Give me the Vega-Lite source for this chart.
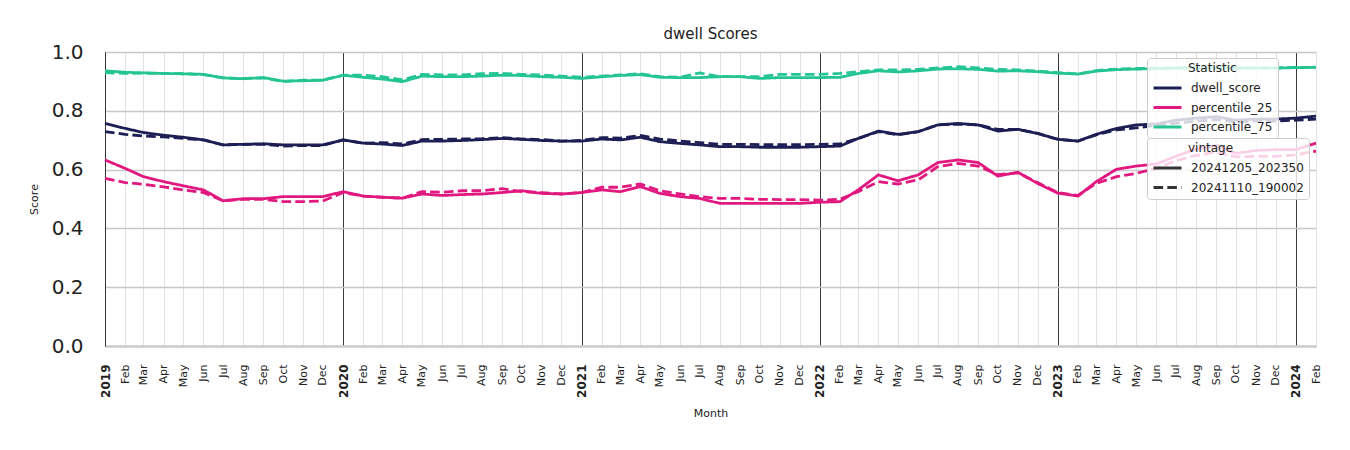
{
  "$schema": "https://vega.github.io/schema/vega-lite/v6.json",
  "width": 1211,
  "height": 294,
  "autosize": {"type": "none"},
  "padding": {"left": 105, "top": 52, "right": 34, "bottom": 104},
  "background": "white",
  "title": {"text": "dwell Scores", "fontSize": 15, "fontWeight": "normal", "color": "#222222", "offset": 0, "font": "DejaVu Sans"},
  "config": {
    "font": "DejaVu Sans",
    "view": {"stroke": null},
    "axis": {"labelFont": "DejaVu Sans", "titleFont": "DejaVu Sans"},
    "legend": {"labelFont": "DejaVu Sans", "titleFont": "DejaVu Sans"}
  },
  "data": {"values": [
    {"month":"2019-01-01","stat":"dwell_score","vintage":"20241205_202350","score":0.757},
    {"month":"2019-02-01","stat":"dwell_score","vintage":"20241205_202350","score":0.740},
    {"month":"2019-03-01","stat":"dwell_score","vintage":"20241205_202350","score":0.726},
    {"month":"2019-04-01","stat":"dwell_score","vintage":"20241205_202350","score":0.717},
    {"month":"2019-05-01","stat":"dwell_score","vintage":"20241205_202350","score":0.710},
    {"month":"2019-06-01","stat":"dwell_score","vintage":"20241205_202350","score":0.701},
    {"month":"2019-07-01","stat":"dwell_score","vintage":"20241205_202350","score":0.684},
    {"month":"2019-08-01","stat":"dwell_score","vintage":"20241205_202350","score":0.686},
    {"month":"2019-09-01","stat":"dwell_score","vintage":"20241205_202350","score":0.688},
    {"month":"2019-10-01","stat":"dwell_score","vintage":"20241205_202350","score":0.684},
    {"month":"2019-11-01","stat":"dwell_score","vintage":"20241205_202350","score":0.684},
    {"month":"2019-12-01","stat":"dwell_score","vintage":"20241205_202350","score":0.684},
    {"month":"2020-01-01","stat":"dwell_score","vintage":"20241205_202350","score":0.701},
    {"month":"2020-02-01","stat":"dwell_score","vintage":"20241205_202350","score":0.690},
    {"month":"2020-03-01","stat":"dwell_score","vintage":"20241205_202350","score":0.687},
    {"month":"2020-04-01","stat":"dwell_score","vintage":"20241205_202350","score":0.682},
    {"month":"2020-05-01","stat":"dwell_score","vintage":"20241205_202350","score":0.697},
    {"month":"2020-06-01","stat":"dwell_score","vintage":"20241205_202350","score":0.697},
    {"month":"2020-07-01","stat":"dwell_score","vintage":"20241205_202350","score":0.699},
    {"month":"2020-08-01","stat":"dwell_score","vintage":"20241205_202350","score":0.702},
    {"month":"2020-09-01","stat":"dwell_score","vintage":"20241205_202350","score":0.706},
    {"month":"2020-10-01","stat":"dwell_score","vintage":"20241205_202350","score":0.703},
    {"month":"2020-11-01","stat":"dwell_score","vintage":"20241205_202350","score":0.699},
    {"month":"2020-12-01","stat":"dwell_score","vintage":"20241205_202350","score":0.697},
    {"month":"2021-01-01","stat":"dwell_score","vintage":"20241205_202350","score":0.697},
    {"month":"2021-02-01","stat":"dwell_score","vintage":"20241205_202350","score":0.704},
    {"month":"2021-03-01","stat":"dwell_score","vintage":"20241205_202350","score":0.701},
    {"month":"2021-04-01","stat":"dwell_score","vintage":"20241205_202350","score":0.710},
    {"month":"2021-05-01","stat":"dwell_score","vintage":"20241205_202350","score":0.695},
    {"month":"2021-06-01","stat":"dwell_score","vintage":"20241205_202350","score":0.689},
    {"month":"2021-07-01","stat":"dwell_score","vintage":"20241205_202350","score":0.684},
    {"month":"2021-08-01","stat":"dwell_score","vintage":"20241205_202350","score":0.678},
    {"month":"2021-09-01","stat":"dwell_score","vintage":"20241205_202350","score":0.678},
    {"month":"2021-10-01","stat":"dwell_score","vintage":"20241205_202350","score":0.676},
    {"month":"2021-11-01","stat":"dwell_score","vintage":"20241205_202350","score":0.676},
    {"month":"2021-12-01","stat":"dwell_score","vintage":"20241205_202350","score":0.676},
    {"month":"2022-01-01","stat":"dwell_score","vintage":"20241205_202350","score":0.678},
    {"month":"2022-02-01","stat":"dwell_score","vintage":"20241205_202350","score":0.680},
    {"month":"2022-03-01","stat":"dwell_score","vintage":"20241205_202350","score":0.706},
    {"month":"2022-04-01","stat":"dwell_score","vintage":"20241205_202350","score":0.731},
    {"month":"2022-05-01","stat":"dwell_score","vintage":"20241205_202350","score":0.720},
    {"month":"2022-06-01","stat":"dwell_score","vintage":"20241205_202350","score":0.729},
    {"month":"2022-07-01","stat":"dwell_score","vintage":"20241205_202350","score":0.752},
    {"month":"2022-08-01","stat":"dwell_score","vintage":"20241205_202350","score":0.757},
    {"month":"2022-09-01","stat":"dwell_score","vintage":"20241205_202350","score":0.752},
    {"month":"2022-10-01","stat":"dwell_score","vintage":"20241205_202350","score":0.731},
    {"month":"2022-11-01","stat":"dwell_score","vintage":"20241205_202350","score":0.737},
    {"month":"2022-12-01","stat":"dwell_score","vintage":"20241205_202350","score":0.723},
    {"month":"2023-01-01","stat":"dwell_score","vintage":"20241205_202350","score":0.703},
    {"month":"2023-02-01","stat":"dwell_score","vintage":"20241205_202350","score":0.697},
    {"month":"2023-03-01","stat":"dwell_score","vintage":"20241205_202350","score":0.720},
    {"month":"2023-04-01","stat":"dwell_score","vintage":"20241205_202350","score":0.740},
    {"month":"2023-05-01","stat":"dwell_score","vintage":"20241205_202350","score":0.752},
    {"month":"2023-06-01","stat":"dwell_score","vintage":"20241205_202350","score":0.755},
    {"month":"2023-07-01","stat":"dwell_score","vintage":"20241205_202350","score":0.768},
    {"month":"2023-08-01","stat":"dwell_score","vintage":"20241205_202350","score":0.775},
    {"month":"2023-09-01","stat":"dwell_score","vintage":"20241205_202350","score":0.780},
    {"month":"2023-10-01","stat":"dwell_score","vintage":"20241205_202350","score":0.768},
    {"month":"2023-11-01","stat":"dwell_score","vintage":"20241205_202350","score":0.772},
    {"month":"2023-12-01","stat":"dwell_score","vintage":"20241205_202350","score":0.772},
    {"month":"2024-01-01","stat":"dwell_score","vintage":"20241205_202350","score":0.775},
    {"month":"2024-02-01","stat":"dwell_score","vintage":"20241205_202350","score":0.782},

    {"month":"2019-01-01","stat":"dwell_score","vintage":"20241110_190002","score":0.729},
    {"month":"2019-02-01","stat":"dwell_score","vintage":"20241110_190002","score":0.720},
    {"month":"2019-03-01","stat":"dwell_score","vintage":"20241110_190002","score":0.714},
    {"month":"2019-04-01","stat":"dwell_score","vintage":"20241110_190002","score":0.711},
    {"month":"2019-05-01","stat":"dwell_score","vintage":"20241110_190002","score":0.706},
    {"month":"2019-06-01","stat":"dwell_score","vintage":"20241110_190002","score":0.701},
    {"month":"2019-07-01","stat":"dwell_score","vintage":"20241110_190002","score":0.684},
    {"month":"2019-08-01","stat":"dwell_score","vintage":"20241110_190002","score":0.686},
    {"month":"2019-09-01","stat":"dwell_score","vintage":"20241110_190002","score":0.686},
    {"month":"2019-10-01","stat":"dwell_score","vintage":"20241110_190002","score":0.680},
    {"month":"2019-11-01","stat":"dwell_score","vintage":"20241110_190002","score":0.682},
    {"month":"2019-12-01","stat":"dwell_score","vintage":"20241110_190002","score":0.682},
    {"month":"2020-01-01","stat":"dwell_score","vintage":"20241110_190002","score":0.701},
    {"month":"2020-02-01","stat":"dwell_score","vintage":"20241110_190002","score":0.690},
    {"month":"2020-03-01","stat":"dwell_score","vintage":"20241110_190002","score":0.692},
    {"month":"2020-04-01","stat":"dwell_score","vintage":"20241110_190002","score":0.687},
    {"month":"2020-05-01","stat":"dwell_score","vintage":"20241110_190002","score":0.702},
    {"month":"2020-06-01","stat":"dwell_score","vintage":"20241110_190002","score":0.703},
    {"month":"2020-07-01","stat":"dwell_score","vintage":"20241110_190002","score":0.704},
    {"month":"2020-08-01","stat":"dwell_score","vintage":"20241110_190002","score":0.705},
    {"month":"2020-09-01","stat":"dwell_score","vintage":"20241110_190002","score":0.709},
    {"month":"2020-10-01","stat":"dwell_score","vintage":"20241110_190002","score":0.704},
    {"month":"2020-11-01","stat":"dwell_score","vintage":"20241110_190002","score":0.702},
    {"month":"2020-12-01","stat":"dwell_score","vintage":"20241110_190002","score":0.697},
    {"month":"2021-01-01","stat":"dwell_score","vintage":"20241110_190002","score":0.699},
    {"month":"2021-02-01","stat":"dwell_score","vintage":"20241110_190002","score":0.709},
    {"month":"2021-03-01","stat":"dwell_score","vintage":"20241110_190002","score":0.707},
    {"month":"2021-04-01","stat":"dwell_score","vintage":"20241110_190002","score":0.716},
    {"month":"2021-05-01","stat":"dwell_score","vintage":"20241110_190002","score":0.704},
    {"month":"2021-06-01","stat":"dwell_score","vintage":"20241110_190002","score":0.697},
    {"month":"2021-07-01","stat":"dwell_score","vintage":"20241110_190002","score":0.692},
    {"month":"2021-08-01","stat":"dwell_score","vintage":"20241110_190002","score":0.686},
    {"month":"2021-09-01","stat":"dwell_score","vintage":"20241110_190002","score":0.686},
    {"month":"2021-10-01","stat":"dwell_score","vintage":"20241110_190002","score":0.685},
    {"month":"2021-11-01","stat":"dwell_score","vintage":"20241110_190002","score":0.685},
    {"month":"2021-12-01","stat":"dwell_score","vintage":"20241110_190002","score":0.685},
    {"month":"2022-01-01","stat":"dwell_score","vintage":"20241110_190002","score":0.686},
    {"month":"2022-02-01","stat":"dwell_score","vintage":"20241110_190002","score":0.687},
    {"month":"2022-03-01","stat":"dwell_score","vintage":"20241110_190002","score":0.706},
    {"month":"2022-04-01","stat":"dwell_score","vintage":"20241110_190002","score":0.729},
    {"month":"2022-05-01","stat":"dwell_score","vintage":"20241110_190002","score":0.718},
    {"month":"2022-06-01","stat":"dwell_score","vintage":"20241110_190002","score":0.729},
    {"month":"2022-07-01","stat":"dwell_score","vintage":"20241110_190002","score":0.752},
    {"month":"2022-08-01","stat":"dwell_score","vintage":"20241110_190002","score":0.755},
    {"month":"2022-09-01","stat":"dwell_score","vintage":"20241110_190002","score":0.752},
    {"month":"2022-10-01","stat":"dwell_score","vintage":"20241110_190002","score":0.737},
    {"month":"2022-11-01","stat":"dwell_score","vintage":"20241110_190002","score":0.737},
    {"month":"2022-12-01","stat":"dwell_score","vintage":"20241110_190002","score":0.723},
    {"month":"2023-01-01","stat":"dwell_score","vintage":"20241110_190002","score":0.703},
    {"month":"2023-02-01","stat":"dwell_score","vintage":"20241110_190002","score":0.697},
    {"month":"2023-03-01","stat":"dwell_score","vintage":"20241110_190002","score":0.718},
    {"month":"2023-04-01","stat":"dwell_score","vintage":"20241110_190002","score":0.735},
    {"month":"2023-05-01","stat":"dwell_score","vintage":"20241110_190002","score":0.742},
    {"month":"2023-06-01","stat":"dwell_score","vintage":"20241110_190002","score":0.750},
    {"month":"2023-07-01","stat":"dwell_score","vintage":"20241110_190002","score":0.758},
    {"month":"2023-08-01","stat":"dwell_score","vintage":"20241110_190002","score":0.765},
    {"month":"2023-09-01","stat":"dwell_score","vintage":"20241110_190002","score":0.770},
    {"month":"2023-10-01","stat":"dwell_score","vintage":"20241110_190002","score":0.762},
    {"month":"2023-11-01","stat":"dwell_score","vintage":"20241110_190002","score":0.765},
    {"month":"2023-12-01","stat":"dwell_score","vintage":"20241110_190002","score":0.765},
    {"month":"2024-01-01","stat":"dwell_score","vintage":"20241110_190002","score":0.768},
    {"month":"2024-02-01","stat":"dwell_score","vintage":"20241110_190002","score":0.772},

    {"month":"2019-01-01","stat":"percentile_25","vintage":"20241205_202350","score":0.633},
    {"month":"2019-02-01","stat":"percentile_25","vintage":"20241205_202350","score":0.604},
    {"month":"2019-03-01","stat":"percentile_25","vintage":"20241205_202350","score":0.576},
    {"month":"2019-04-01","stat":"percentile_25","vintage":"20241205_202350","score":0.559},
    {"month":"2019-05-01","stat":"percentile_25","vintage":"20241205_202350","score":0.545},
    {"month":"2019-06-01","stat":"percentile_25","vintage":"20241205_202350","score":0.531},
    {"month":"2019-07-01","stat":"percentile_25","vintage":"20241205_202350","score":0.494},
    {"month":"2019-08-01","stat":"percentile_25","vintage":"20241205_202350","score":0.501},
    {"month":"2019-09-01","stat":"percentile_25","vintage":"20241205_202350","score":0.501},
    {"month":"2019-10-01","stat":"percentile_25","vintage":"20241205_202350","score":0.508},
    {"month":"2019-11-01","stat":"percentile_25","vintage":"20241205_202350","score":0.508},
    {"month":"2019-12-01","stat":"percentile_25","vintage":"20241205_202350","score":0.508},
    {"month":"2020-01-01","stat":"percentile_25","vintage":"20241205_202350","score":0.525},
    {"month":"2020-02-01","stat":"percentile_25","vintage":"20241205_202350","score":0.510},
    {"month":"2020-03-01","stat":"percentile_25","vintage":"20241205_202350","score":0.506},
    {"month":"2020-04-01","stat":"percentile_25","vintage":"20241205_202350","score":0.503},
    {"month":"2020-05-01","stat":"percentile_25","vintage":"20241205_202350","score":0.517},
    {"month":"2020-06-01","stat":"percentile_25","vintage":"20241205_202350","score":0.512},
    {"month":"2020-07-01","stat":"percentile_25","vintage":"20241205_202350","score":0.515},
    {"month":"2020-08-01","stat":"percentile_25","vintage":"20241205_202350","score":0.517},
    {"month":"2020-09-01","stat":"percentile_25","vintage":"20241205_202350","score":0.522},
    {"month":"2020-10-01","stat":"percentile_25","vintage":"20241205_202350","score":0.528},
    {"month":"2020-11-01","stat":"percentile_25","vintage":"20241205_202350","score":0.519},
    {"month":"2020-12-01","stat":"percentile_25","vintage":"20241205_202350","score":0.517},
    {"month":"2021-01-01","stat":"percentile_25","vintage":"20241205_202350","score":0.522},
    {"month":"2021-02-01","stat":"percentile_25","vintage":"20241205_202350","score":0.531},
    {"month":"2021-03-01","stat":"percentile_25","vintage":"20241205_202350","score":0.525},
    {"month":"2021-04-01","stat":"percentile_25","vintage":"20241205_202350","score":0.542},
    {"month":"2021-05-01","stat":"percentile_25","vintage":"20241205_202350","score":0.519},
    {"month":"2021-06-01","stat":"percentile_25","vintage":"20241205_202350","score":0.508},
    {"month":"2021-07-01","stat":"percentile_25","vintage":"20241205_202350","score":0.502},
    {"month":"2021-08-01","stat":"percentile_25","vintage":"20241205_202350","score":0.485},
    {"month":"2021-09-01","stat":"percentile_25","vintage":"20241205_202350","score":0.485},
    {"month":"2021-10-01","stat":"percentile_25","vintage":"20241205_202350","score":0.485},
    {"month":"2021-11-01","stat":"percentile_25","vintage":"20241205_202350","score":0.485},
    {"month":"2021-12-01","stat":"percentile_25","vintage":"20241205_202350","score":0.485},
    {"month":"2022-01-01","stat":"percentile_25","vintage":"20241205_202350","score":0.489},
    {"month":"2022-02-01","stat":"percentile_25","vintage":"20241205_202350","score":0.491},
    {"month":"2022-03-01","stat":"percentile_25","vintage":"20241205_202350","score":0.531},
    {"month":"2022-04-01","stat":"percentile_25","vintage":"20241205_202350","score":0.582},
    {"month":"2022-05-01","stat":"percentile_25","vintage":"20241205_202350","score":0.562},
    {"month":"2022-06-01","stat":"percentile_25","vintage":"20241205_202350","score":0.582},
    {"month":"2022-07-01","stat":"percentile_25","vintage":"20241205_202350","score":0.624},
    {"month":"2022-08-01","stat":"percentile_25","vintage":"20241205_202350","score":0.633},
    {"month":"2022-09-01","stat":"percentile_25","vintage":"20241205_202350","score":0.624},
    {"month":"2022-10-01","stat":"percentile_25","vintage":"20241205_202350","score":0.578},
    {"month":"2022-11-01","stat":"percentile_25","vintage":"20241205_202350","score":0.591},
    {"month":"2022-12-01","stat":"percentile_25","vintage":"20241205_202350","score":0.553},
    {"month":"2023-01-01","stat":"percentile_25","vintage":"20241205_202350","score":0.520},
    {"month":"2023-02-01","stat":"percentile_25","vintage":"20241205_202350","score":0.510},
    {"month":"2023-03-01","stat":"percentile_25","vintage":"20241205_202350","score":0.559},
    {"month":"2023-04-01","stat":"percentile_25","vintage":"20241205_202350","score":0.601},
    {"month":"2023-05-01","stat":"percentile_25","vintage":"20241205_202350","score":0.612},
    {"month":"2023-06-01","stat":"percentile_25","vintage":"20241205_202350","score":0.619},
    {"month":"2023-07-01","stat":"percentile_25","vintage":"20241205_202350","score":0.645},
    {"month":"2023-08-01","stat":"percentile_25","vintage":"20241205_202350","score":0.670},
    {"month":"2023-09-01","stat":"percentile_25","vintage":"20241205_202350","score":0.682},
    {"month":"2023-10-01","stat":"percentile_25","vintage":"20241205_202350","score":0.655},
    {"month":"2023-11-01","stat":"percentile_25","vintage":"20241205_202350","score":0.665},
    {"month":"2023-12-01","stat":"percentile_25","vintage":"20241205_202350","score":0.668},
    {"month":"2024-01-01","stat":"percentile_25","vintage":"20241205_202350","score":0.668},
    {"month":"2024-02-01","stat":"percentile_25","vintage":"20241205_202350","score":0.690},

    {"month":"2019-01-01","stat":"percentile_25","vintage":"20241110_190002","score":0.570},
    {"month":"2019-02-01","stat":"percentile_25","vintage":"20241110_190002","score":0.556},
    {"month":"2019-03-01","stat":"percentile_25","vintage":"20241110_190002","score":0.550},
    {"month":"2019-04-01","stat":"percentile_25","vintage":"20241110_190002","score":0.541},
    {"month":"2019-05-01","stat":"percentile_25","vintage":"20241110_190002","score":0.531},
    {"month":"2019-06-01","stat":"percentile_25","vintage":"20241110_190002","score":0.522},
    {"month":"2019-07-01","stat":"percentile_25","vintage":"20241110_190002","score":0.494},
    {"month":"2019-08-01","stat":"percentile_25","vintage":"20241110_190002","score":0.499},
    {"month":"2019-09-01","stat":"percentile_25","vintage":"20241110_190002","score":0.499},
    {"month":"2019-10-01","stat":"percentile_25","vintage":"20241110_190002","score":0.491},
    {"month":"2019-11-01","stat":"percentile_25","vintage":"20241110_190002","score":0.491},
    {"month":"2019-12-01","stat":"percentile_25","vintage":"20241110_190002","score":0.493},
    {"month":"2020-01-01","stat":"percentile_25","vintage":"20241110_190002","score":0.522},
    {"month":"2020-02-01","stat":"percentile_25","vintage":"20241110_190002","score":0.510},
    {"month":"2020-03-01","stat":"percentile_25","vintage":"20241110_190002","score":0.506},
    {"month":"2020-04-01","stat":"percentile_25","vintage":"20241110_190002","score":0.503},
    {"month":"2020-05-01","stat":"percentile_25","vintage":"20241110_190002","score":0.525},
    {"month":"2020-06-01","stat":"percentile_25","vintage":"20241110_190002","score":0.523},
    {"month":"2020-07-01","stat":"percentile_25","vintage":"20241110_190002","score":0.528},
    {"month":"2020-08-01","stat":"percentile_25","vintage":"20241110_190002","score":0.528},
    {"month":"2020-09-01","stat":"percentile_25","vintage":"20241110_190002","score":0.535},
    {"month":"2020-10-01","stat":"percentile_25","vintage":"20241110_190002","score":0.525},
    {"month":"2020-11-01","stat":"percentile_25","vintage":"20241110_190002","score":0.522},
    {"month":"2020-12-01","stat":"percentile_25","vintage":"20241110_190002","score":0.517},
    {"month":"2021-01-01","stat":"percentile_25","vintage":"20241110_190002","score":0.522},
    {"month":"2021-02-01","stat":"percentile_25","vintage":"20241110_190002","score":0.540},
    {"month":"2021-03-01","stat":"percentile_25","vintage":"20241110_190002","score":0.540},
    {"month":"2021-04-01","stat":"percentile_25","vintage":"20241110_190002","score":0.551},
    {"month":"2021-05-01","stat":"percentile_25","vintage":"20241110_190002","score":0.528},
    {"month":"2021-06-01","stat":"percentile_25","vintage":"20241110_190002","score":0.517},
    {"month":"2021-07-01","stat":"percentile_25","vintage":"20241110_190002","score":0.508},
    {"month":"2021-08-01","stat":"percentile_25","vintage":"20241110_190002","score":0.502},
    {"month":"2021-09-01","stat":"percentile_25","vintage":"20241110_190002","score":0.502},
    {"month":"2021-10-01","stat":"percentile_25","vintage":"20241110_190002","score":0.499},
    {"month":"2021-11-01","stat":"percentile_25","vintage":"20241110_190002","score":0.498},
    {"month":"2021-12-01","stat":"percentile_25","vintage":"20241110_190002","score":0.498},
    {"month":"2022-01-01","stat":"percentile_25","vintage":"20241110_190002","score":0.496},
    {"month":"2022-02-01","stat":"percentile_25","vintage":"20241110_190002","score":0.499},
    {"month":"2022-03-01","stat":"percentile_25","vintage":"20241110_190002","score":0.525},
    {"month":"2022-04-01","stat":"percentile_25","vintage":"20241110_190002","score":0.559},
    {"month":"2022-05-01","stat":"percentile_25","vintage":"20241110_190002","score":0.551},
    {"month":"2022-06-01","stat":"percentile_25","vintage":"20241110_190002","score":0.565},
    {"month":"2022-07-01","stat":"percentile_25","vintage":"20241110_190002","score":0.610},
    {"month":"2022-08-01","stat":"percentile_25","vintage":"20241110_190002","score":0.621},
    {"month":"2022-09-01","stat":"percentile_25","vintage":"20241110_190002","score":0.612},
    {"month":"2022-10-01","stat":"percentile_25","vintage":"20241110_190002","score":0.583},
    {"month":"2022-11-01","stat":"percentile_25","vintage":"20241110_190002","score":0.589},
    {"month":"2022-12-01","stat":"percentile_25","vintage":"20241110_190002","score":0.556},
    {"month":"2023-01-01","stat":"percentile_25","vintage":"20241110_190002","score":0.522},
    {"month":"2023-02-01","stat":"percentile_25","vintage":"20241110_190002","score":0.512},
    {"month":"2023-03-01","stat":"percentile_25","vintage":"20241110_190002","score":0.553},
    {"month":"2023-04-01","stat":"percentile_25","vintage":"20241110_190002","score":0.576},
    {"month":"2023-05-01","stat":"percentile_25","vintage":"20241110_190002","score":0.587},
    {"month":"2023-06-01","stat":"percentile_25","vintage":"20241110_190002","score":0.604},
    {"month":"2023-07-01","stat":"percentile_25","vintage":"20241110_190002","score":0.630},
    {"month":"2023-08-01","stat":"percentile_25","vintage":"20241110_190002","score":0.648},
    {"month":"2023-09-01","stat":"percentile_25","vintage":"20241110_190002","score":0.660},
    {"month":"2023-10-01","stat":"percentile_25","vintage":"20241110_190002","score":0.643},
    {"month":"2023-11-01","stat":"percentile_25","vintage":"20241110_190002","score":0.645},
    {"month":"2023-12-01","stat":"percentile_25","vintage":"20241110_190002","score":0.645},
    {"month":"2024-01-01","stat":"percentile_25","vintage":"20241110_190002","score":0.650},
    {"month":"2024-02-01","stat":"percentile_25","vintage":"20241110_190002","score":0.663},

    {"month":"2019-01-01","stat":"percentile_75","vintage":"20241205_202350","score":0.936},
    {"month":"2019-02-01","stat":"percentile_75","vintage":"20241205_202350","score":0.931},
    {"month":"2019-03-01","stat":"percentile_75","vintage":"20241205_202350","score":0.929},
    {"month":"2019-04-01","stat":"percentile_75","vintage":"20241205_202350","score":0.927},
    {"month":"2019-05-01","stat":"percentile_75","vintage":"20241205_202350","score":0.926},
    {"month":"2019-06-01","stat":"percentile_75","vintage":"20241205_202350","score":0.924},
    {"month":"2019-07-01","stat":"percentile_75","vintage":"20241205_202350","score":0.912},
    {"month":"2019-08-01","stat":"percentile_75","vintage":"20241205_202350","score":0.909},
    {"month":"2019-09-01","stat":"percentile_75","vintage":"20241205_202350","score":0.913},
    {"month":"2019-10-01","stat":"percentile_75","vintage":"20241205_202350","score":0.901},
    {"month":"2019-11-01","stat":"percentile_75","vintage":"20241205_202350","score":0.902},
    {"month":"2019-12-01","stat":"percentile_75","vintage":"20241205_202350","score":0.904},
    {"month":"2020-01-01","stat":"percentile_75","vintage":"20241205_202350","score":0.921},
    {"month":"2020-02-01","stat":"percentile_75","vintage":"20241205_202350","score":0.914},
    {"month":"2020-03-01","stat":"percentile_75","vintage":"20241205_202350","score":0.908},
    {"month":"2020-04-01","stat":"percentile_75","vintage":"20241205_202350","score":0.899},
    {"month":"2020-05-01","stat":"percentile_75","vintage":"20241205_202350","score":0.918},
    {"month":"2020-06-01","stat":"percentile_75","vintage":"20241205_202350","score":0.916},
    {"month":"2020-07-01","stat":"percentile_75","vintage":"20241205_202350","score":0.916},
    {"month":"2020-08-01","stat":"percentile_75","vintage":"20241205_202350","score":0.918},
    {"month":"2020-09-01","stat":"percentile_75","vintage":"20241205_202350","score":0.921},
    {"month":"2020-10-01","stat":"percentile_75","vintage":"20241205_202350","score":0.920},
    {"month":"2020-11-01","stat":"percentile_75","vintage":"20241205_202350","score":0.916},
    {"month":"2020-12-01","stat":"percentile_75","vintage":"20241205_202350","score":0.914},
    {"month":"2021-01-01","stat":"percentile_75","vintage":"20241205_202350","score":0.910},
    {"month":"2021-02-01","stat":"percentile_75","vintage":"20241205_202350","score":0.916},
    {"month":"2021-03-01","stat":"percentile_75","vintage":"20241205_202350","score":0.920},
    {"month":"2021-04-01","stat":"percentile_75","vintage":"20241205_202350","score":0.923},
    {"month":"2021-05-01","stat":"percentile_75","vintage":"20241205_202350","score":0.914},
    {"month":"2021-06-01","stat":"percentile_75","vintage":"20241205_202350","score":0.913},
    {"month":"2021-07-01","stat":"percentile_75","vintage":"20241205_202350","score":0.913},
    {"month":"2021-08-01","stat":"percentile_75","vintage":"20241205_202350","score":0.916},
    {"month":"2021-09-01","stat":"percentile_75","vintage":"20241205_202350","score":0.916},
    {"month":"2021-10-01","stat":"percentile_75","vintage":"20241205_202350","score":0.910},
    {"month":"2021-11-01","stat":"percentile_75","vintage":"20241205_202350","score":0.913},
    {"month":"2021-12-01","stat":"percentile_75","vintage":"20241205_202350","score":0.913},
    {"month":"2022-01-01","stat":"percentile_75","vintage":"20241205_202350","score":0.913},
    {"month":"2022-02-01","stat":"percentile_75","vintage":"20241205_202350","score":0.914},
    {"month":"2022-03-01","stat":"percentile_75","vintage":"20241205_202350","score":0.927},
    {"month":"2022-04-01","stat":"percentile_75","vintage":"20241205_202350","score":0.936},
    {"month":"2022-05-01","stat":"percentile_75","vintage":"20241205_202350","score":0.932},
    {"month":"2022-06-01","stat":"percentile_75","vintage":"20241205_202350","score":0.936},
    {"month":"2022-07-01","stat":"percentile_75","vintage":"20241205_202350","score":0.942},
    {"month":"2022-08-01","stat":"percentile_75","vintage":"20241205_202350","score":0.943},
    {"month":"2022-09-01","stat":"percentile_75","vintage":"20241205_202350","score":0.941},
    {"month":"2022-10-01","stat":"percentile_75","vintage":"20241205_202350","score":0.935},
    {"month":"2022-11-01","stat":"percentile_75","vintage":"20241205_202350","score":0.936},
    {"month":"2022-12-01","stat":"percentile_75","vintage":"20241205_202350","score":0.933},
    {"month":"2023-01-01","stat":"percentile_75","vintage":"20241205_202350","score":0.928},
    {"month":"2023-02-01","stat":"percentile_75","vintage":"20241205_202350","score":0.925},
    {"month":"2023-03-01","stat":"percentile_75","vintage":"20241205_202350","score":0.935},
    {"month":"2023-04-01","stat":"percentile_75","vintage":"20241205_202350","score":0.940},
    {"month":"2023-05-01","stat":"percentile_75","vintage":"20241205_202350","score":0.942},
    {"month":"2023-06-01","stat":"percentile_75","vintage":"20241205_202350","score":0.943},
    {"month":"2023-07-01","stat":"percentile_75","vintage":"20241205_202350","score":0.945},
    {"month":"2023-08-01","stat":"percentile_75","vintage":"20241205_202350","score":0.946},
    {"month":"2023-09-01","stat":"percentile_75","vintage":"20241205_202350","score":0.946},
    {"month":"2023-10-01","stat":"percentile_75","vintage":"20241205_202350","score":0.945},
    {"month":"2023-11-01","stat":"percentile_75","vintage":"20241205_202350","score":0.945},
    {"month":"2023-12-01","stat":"percentile_75","vintage":"20241205_202350","score":0.945},
    {"month":"2024-01-01","stat":"percentile_75","vintage":"20241205_202350","score":0.947},
    {"month":"2024-02-01","stat":"percentile_75","vintage":"20241205_202350","score":0.948},

    {"month":"2019-01-01","stat":"percentile_75","vintage":"20241110_190002","score":0.930},
    {"month":"2019-02-01","stat":"percentile_75","vintage":"20241110_190002","score":0.927},
    {"month":"2019-03-01","stat":"percentile_75","vintage":"20241110_190002","score":0.928},
    {"month":"2019-04-01","stat":"percentile_75","vintage":"20241110_190002","score":0.927},
    {"month":"2019-05-01","stat":"percentile_75","vintage":"20241110_190002","score":0.926},
    {"month":"2019-06-01","stat":"percentile_75","vintage":"20241110_190002","score":0.923},
    {"month":"2019-07-01","stat":"percentile_75","vintage":"20241110_190002","score":0.912},
    {"month":"2019-08-01","stat":"percentile_75","vintage":"20241110_190002","score":0.910},
    {"month":"2019-09-01","stat":"percentile_75","vintage":"20241110_190002","score":0.912},
    {"month":"2019-10-01","stat":"percentile_75","vintage":"20241110_190002","score":0.900},
    {"month":"2019-11-01","stat":"percentile_75","vintage":"20241110_190002","score":0.904},
    {"month":"2019-12-01","stat":"percentile_75","vintage":"20241110_190002","score":0.904},
    {"month":"2020-01-01","stat":"percentile_75","vintage":"20241110_190002","score":0.921},
    {"month":"2020-02-01","stat":"percentile_75","vintage":"20241110_190002","score":0.921},
    {"month":"2020-03-01","stat":"percentile_75","vintage":"20241110_190002","score":0.916},
    {"month":"2020-04-01","stat":"percentile_75","vintage":"20241110_190002","score":0.905},
    {"month":"2020-05-01","stat":"percentile_75","vintage":"20241110_190002","score":0.924},
    {"month":"2020-06-01","stat":"percentile_75","vintage":"20241110_190002","score":0.922},
    {"month":"2020-07-01","stat":"percentile_75","vintage":"20241110_190002","score":0.922},
    {"month":"2020-08-01","stat":"percentile_75","vintage":"20241110_190002","score":0.926},
    {"month":"2020-09-01","stat":"percentile_75","vintage":"20241110_190002","score":0.927},
    {"month":"2020-10-01","stat":"percentile_75","vintage":"20241110_190002","score":0.924},
    {"month":"2020-11-01","stat":"percentile_75","vintage":"20241110_190002","score":0.922},
    {"month":"2020-12-01","stat":"percentile_75","vintage":"20241110_190002","score":0.918},
    {"month":"2021-01-01","stat":"percentile_75","vintage":"20241110_190002","score":0.914},
    {"month":"2021-02-01","stat":"percentile_75","vintage":"20241110_190002","score":0.918},
    {"month":"2021-03-01","stat":"percentile_75","vintage":"20241110_190002","score":0.922},
    {"month":"2021-04-01","stat":"percentile_75","vintage":"20241110_190002","score":0.926},
    {"month":"2021-05-01","stat":"percentile_75","vintage":"20241110_190002","score":0.916},
    {"month":"2021-06-01","stat":"percentile_75","vintage":"20241110_190002","score":0.914},
    {"month":"2021-07-01","stat":"percentile_75","vintage":"20241110_190002","score":0.929},
    {"month":"2021-08-01","stat":"percentile_75","vintage":"20241110_190002","score":0.916},
    {"month":"2021-09-01","stat":"percentile_75","vintage":"20241110_190002","score":0.916},
    {"month":"2021-10-01","stat":"percentile_75","vintage":"20241110_190002","score":0.916},
    {"month":"2021-11-01","stat":"percentile_75","vintage":"20241110_190002","score":0.924},
    {"month":"2021-12-01","stat":"percentile_75","vintage":"20241110_190002","score":0.924},
    {"month":"2022-01-01","stat":"percentile_75","vintage":"20241110_190002","score":0.924},
    {"month":"2022-02-01","stat":"percentile_75","vintage":"20241110_190002","score":0.927},
    {"month":"2022-03-01","stat":"percentile_75","vintage":"20241110_190002","score":0.933},
    {"month":"2022-04-01","stat":"percentile_75","vintage":"20241110_190002","score":0.939},
    {"month":"2022-05-01","stat":"percentile_75","vintage":"20241110_190002","score":0.939},
    {"month":"2022-06-01","stat":"percentile_75","vintage":"20241110_190002","score":0.941},
    {"month":"2022-07-01","stat":"percentile_75","vintage":"20241110_190002","score":0.946},
    {"month":"2022-08-01","stat":"percentile_75","vintage":"20241110_190002","score":0.950},
    {"month":"2022-09-01","stat":"percentile_75","vintage":"20241110_190002","score":0.946},
    {"month":"2022-10-01","stat":"percentile_75","vintage":"20241110_190002","score":0.941},
    {"month":"2022-11-01","stat":"percentile_75","vintage":"20241110_190002","score":0.939},
    {"month":"2022-12-01","stat":"percentile_75","vintage":"20241110_190002","score":0.935},
    {"month":"2023-01-01","stat":"percentile_75","vintage":"20241110_190002","score":0.930},
    {"month":"2023-02-01","stat":"percentile_75","vintage":"20241110_190002","score":0.925},
    {"month":"2023-03-01","stat":"percentile_75","vintage":"20241110_190002","score":0.937},
    {"month":"2023-04-01","stat":"percentile_75","vintage":"20241110_190002","score":0.942},
    {"month":"2023-05-01","stat":"percentile_75","vintage":"20241110_190002","score":0.944},
    {"month":"2023-06-01","stat":"percentile_75","vintage":"20241110_190002","score":0.945},
    {"month":"2023-07-01","stat":"percentile_75","vintage":"20241110_190002","score":0.946},
    {"month":"2023-08-01","stat":"percentile_75","vintage":"20241110_190002","score":0.947},
    {"month":"2023-09-01","stat":"percentile_75","vintage":"20241110_190002","score":0.947},
    {"month":"2023-10-01","stat":"percentile_75","vintage":"20241110_190002","score":0.946},
    {"month":"2023-11-01","stat":"percentile_75","vintage":"20241110_190002","score":0.946},
    {"month":"2023-12-01","stat":"percentile_75","vintage":"20241110_190002","score":0.946},
    {"month":"2024-01-01","stat":"percentile_75","vintage":"20241110_190002","score":0.948},
    {"month":"2024-02-01","stat":"percentile_75","vintage":"20241110_190002","score":0.948}
  ]},
  "mark": {"type": "line", "strokeWidth": 2.8},
  "encoding": {
    "x": {
      "field": "month",
      "type": "temporal",
      "scale": {"type": "utc", "domain": [{"year": 2019, "month": 1, "date": 1, "utc": true}, {"year": 2024, "month": 2, "date": 1, "utc": true}], "nice": false},
      "axis": {
        "title": "Month",
        "titleFontSize": 11,
        "titleFontWeight": "normal",
        "titleColor": "#222222",
        "titlePadding": 10,
        "tickCount": {"interval": "month", "step": 1},
        "labelExpr": "utcmonth(datum.value) == 0 ? utcFormat(datum.value, '%Y') : utcFormat(datum.value, '%b')",
        "labelAngle": 270,
        "labelAlign": "right",
        "labelBaseline": "middle",
        "labelFontSize": {"condition": {"test": "utcmonth(datum.value) == 0", "value": 12}, "value": 11},
        "labelFontWeight": {"condition": {"test": "utcmonth(datum.value) == 0", "value": "bold"}, "value": "normal"},
        "labelColor": "#222222",
        "labelPadding": 18,
        "labelOverlap": false,
        "labelBound": false,
        "labelFlush": false,
        "ticks": false,
        "grid": true,
        "gridColor": {"condition": {"test": "utcmonth(datum.value) == 0", "value": "#3a3a3a"}, "value": "#e2e2e2"},
        "gridWidth": 1,
        "domain": true,
        "domainColor": "#cccccc",
        "domainWidth": 2.5
      }
    },
    "y": {
      "field": "score",
      "type": "quantitative",
      "scale": {"domain": [0, 1], "nice": false, "zero": true},
      "axis": {
        "title": "Score",
        "titleFontSize": 11,
        "titleFontWeight": "normal",
        "titleColor": "#222222",
        "titlePadding": 12,
        "values": [0, 0.2, 0.4, 0.6, 0.8, 1.0],
        "format": ".1f",
        "labelFontSize": 20,
        "labelColor": "#222222",
        "labelPadding": 22,
        "ticks": false,
        "grid": true,
        "gridColor": "#c8c8c8",
        "gridWidth": 1.3,
        "domain": true,
        "domainColor": "#333333",
        "domainWidth": 1
      }
    },
    "color": {
      "field": "stat",
      "type": "nominal",
      "scale": {"domain": ["dwell_score", "percentile_25", "percentile_75"], "range": ["#1c1e54", "#e0187f", "#24c493"]},
      "legend": {
        "title": "Statistic",
        "orient": "none",
        "legendX": 1042,
        "legendY": 6,
        "symbolType": "stroke",
        "symbolSize": 784,
        "symbolStrokeWidth": 3,
        "clipHeight": 12,
        "labelFontSize": 12,
        "labelColor": "#222222",
        "labelOffset": 8,
        "titleFontSize": 12,
        "titleFontWeight": "normal",
        "titleColor": "#222222",
        "titleAnchor": "start",
        "titlePadding": 7,
        "rowPadding": 7.5,
        "padding": 5,
        "fillColor": "rgba(255,255,255,0.8)",
        "strokeColor": "#cccccc",
        "cornerRadius": 3,
        "encode": {"title": {"update": {"dx": {"value": 36}}}}
      }
    },
    "strokeDash": {
      "field": "vintage",
      "type": "nominal",
      "scale": {"domain": ["20241205_202350", "20241110_190002"], "range": [[1, 0], [9.6, 4.2]]},
      "legend": {
        "title": "vintage",
        "orient": "none",
        "legendX": 1042,
        "legendY": 86,
        "symbolType": "stroke",
        "symbolSize": 784,
        "symbolStrokeWidth": 3,
        "symbolStrokeColor": "#333333",
        "clipHeight": 12,
        "labelFontSize": 12,
        "labelColor": "#222222",
        "labelOffset": 8,
        "titleFontSize": 12,
        "titleFontWeight": "normal",
        "titleColor": "#222222",
        "titleAnchor": "start",
        "titlePadding": 7,
        "rowPadding": 7.5,
        "padding": 5,
        "fillColor": "rgba(255,255,255,0.8)",
        "strokeColor": "#cccccc",
        "cornerRadius": 3,
        "encode": {"title": {"update": {"dx": {"value": 36}}}}
      }
    }
  }
}
